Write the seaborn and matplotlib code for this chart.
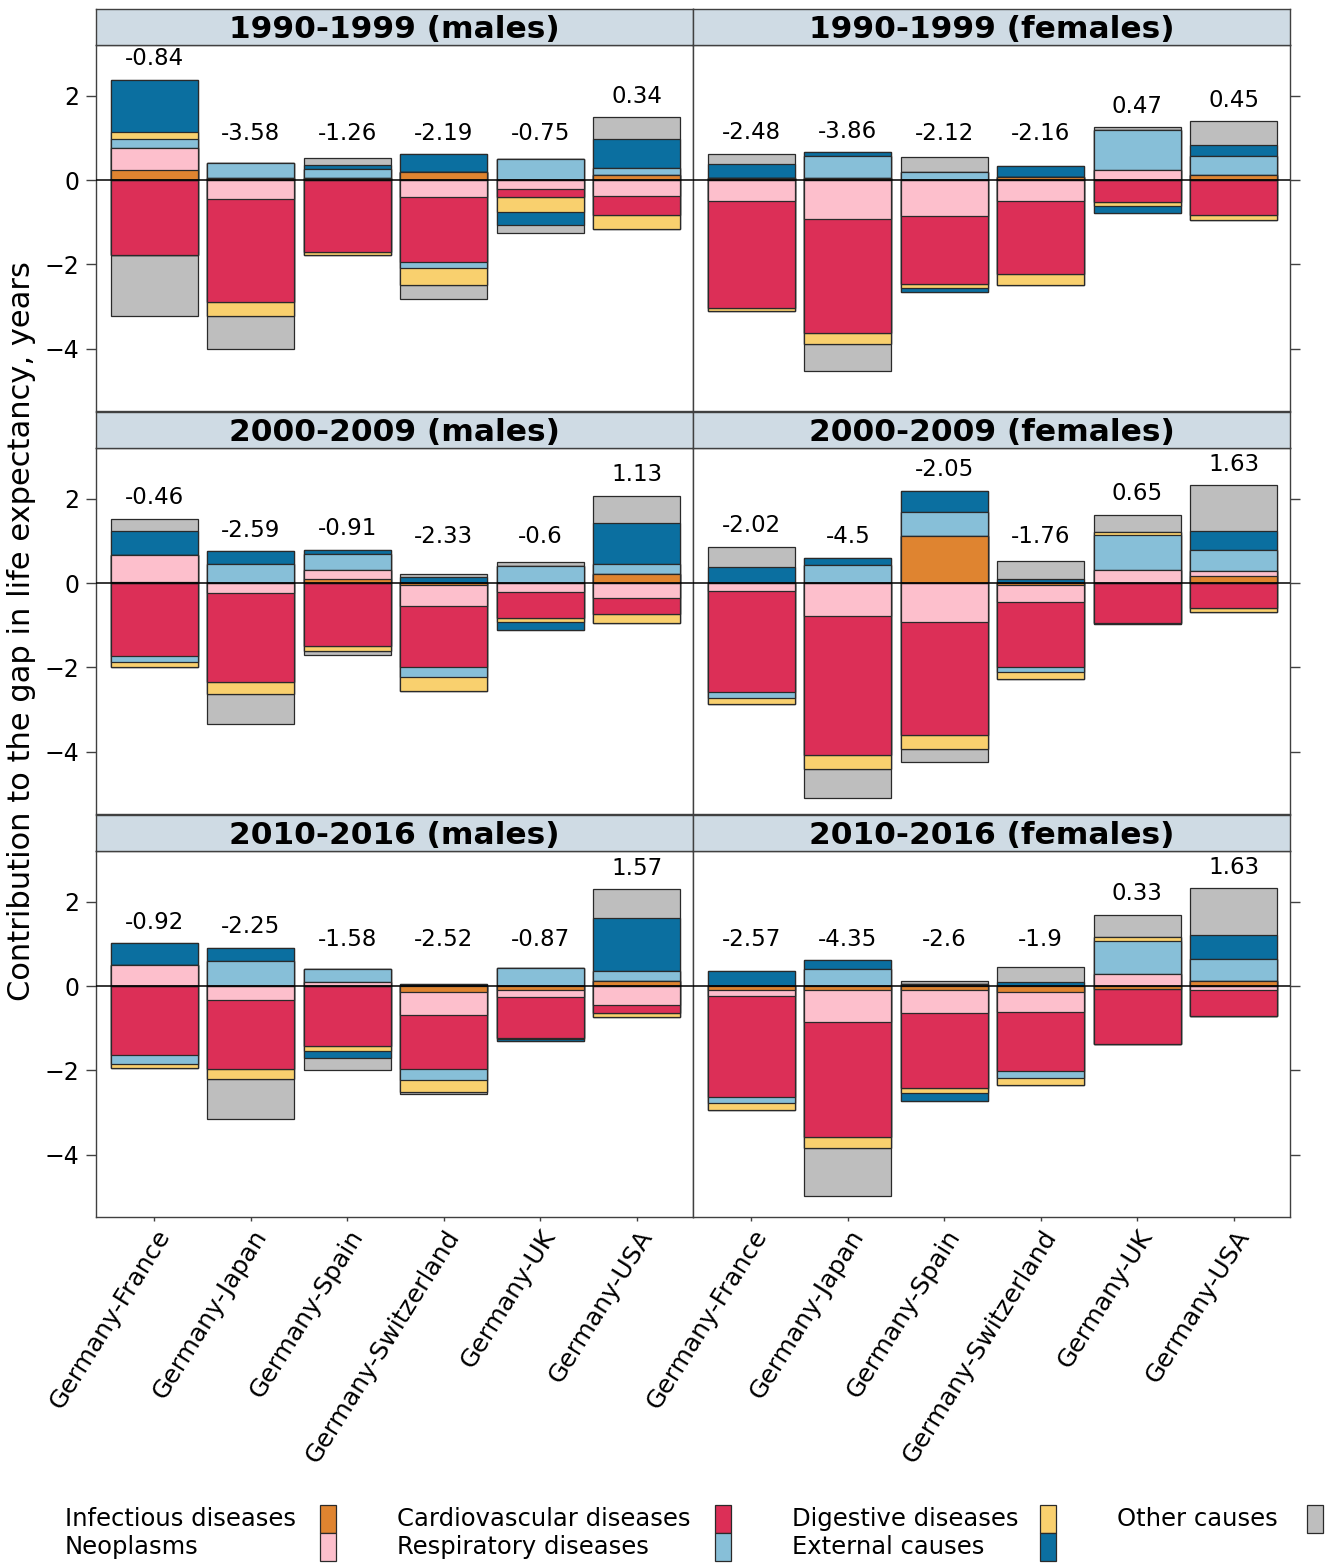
import numpy as np
import matplotlib
matplotlib.use("Agg")
import matplotlib.pyplot as plt
from matplotlib.patches import Rectangle
import seaborn as sns

pairs = ["Germany-France", "Germany-Japan", "Germany-Spain",
         "Germany-Switzerland", "Germany-UK", "Germany-USA"]
periods = ["1990-1999", "2000-2009", "2010-2016"]
sexes = ["males", "females"]

causes = ["Infectious diseases", "Neoplasms", "Cardiovascular diseases",
          "Respiratory diseases", "Digestive diseases", "External causes",
          "Other causes"]
cause_colors = ["#df8430", "#fdbfcc", "#dc2f57", "#87bfd8",
                "#f9d06e", "#0b6fa0", "#bebebe"]

# Rows: 1990-1999 m, 1990-1999 f, 2000-2009 m, 2000-2009 f, 2010-2016 m, 2010-2016 f
# Columns follow `pairs`.
infectious = [
    [0.24, 0.06, 0.05, 0.20, 0.00, 0.12],
    [0.05, 0.06, 0.00, 0.08, 0.00, 0.12],
    [0.03, 0.00, 0.10, -0.05, 0.00, 0.21],
    [0.00, 0.00, 1.11, -0.04, 0.00, 0.18],
    [0.00, 0.00, 0.00, -0.13, -0.08, 0.12],
    [-0.08, -0.08, -0.10, -0.13, -0.06, 0.12],
]
neoplasms = [
    [0.52, -0.44, 0.00, -0.41, -0.22, -0.37],
    [-0.50, -0.91, -0.85, -0.50, 0.24, 0.00],
    [0.65, -0.24, 0.22, -0.48, -0.21, -0.36],
    [-0.19, -0.79, -0.93, -0.40, 0.32, 0.10],
    [0.50, -0.32, 0.10, -0.56, -0.18, -0.45],
    [-0.16, -0.78, -0.54, -0.48, 0.29, -0.10],
]
cardiovascular = [
    [-1.77, -2.45, -1.70, -1.54, -0.17, -0.46],
    [-2.53, -2.71, -1.61, -1.73, -0.52, -0.83],
    [-1.72, -2.10, -1.50, -1.47, -0.61, -0.37],
    [-2.40, -3.28, -2.68, -1.54, -0.94, -0.59],
    [-1.64, -1.64, -1.43, -1.27, -0.97, -0.18],
    [-2.38, -2.71, -1.77, -1.40, -1.31, -0.60],
]
respiratory = [
    [0.22, 0.36, 0.22, -0.13, 0.50, 0.16],
    [0.00, 0.52, 0.20, 0.00, 0.94, 0.45],
    [-0.14, 0.46, 0.37, -0.22, 0.40, 0.25],
    [-0.13, 0.44, 0.58, -0.12, 0.82, 0.52],
    [-0.20, 0.61, 0.30, -0.26, 0.44, 0.25],
    [-0.16, 0.42, 0.06, -0.18, 0.78, 0.52],
]
digestive = [
    [0.16, -0.33, -0.08, -0.41, -0.36, -0.32],
    [-0.08, -0.26, -0.10, -0.26, -0.10, -0.12],
    [-0.13, -0.30, -0.10, -0.34, -0.10, -0.21],
    [-0.16, -0.34, -0.33, -0.18, 0.08, -0.10],
    [-0.10, -0.24, -0.10, -0.29, -0.02, -0.10],
    [-0.16, -0.26, -0.12, -0.16, 0.10, 0.00],
]
external = [
    [1.25, 0.00, 0.10, 0.42, -0.32, 0.70],
    [0.33, 0.08, -0.10, 0.25, -0.17, 0.26],
    [0.57, 0.30, 0.10, 0.14, -0.18, 0.98],
    [0.38, 0.16, 0.50, 0.10, -0.04, 0.44],
    [0.52, 0.30, -0.17, 0.05, -0.06, 1.25],
    [0.37, 0.20, -0.20, 0.10, 0.00, 0.58],
]
other = [
    [-1.46, -0.78, 0.15, -0.32, -0.18, 0.51],
    [0.25, -0.64, 0.34, 0.00, 0.08, 0.57],
    [0.28, -0.71, -0.10, 0.09, 0.10, 0.63],
    [0.48, -0.69, -0.30, 0.42, 0.41, 1.08],
    [0.00, -0.96, -0.28, -0.06, 0.00, 0.68],
    [0.00, -1.14, 0.07, 0.35, 0.53, 1.11],
]
# Total gap in life expectancy for each pair
gap = [
    [-0.84, -3.58, -1.26, -2.19, -0.75, 0.34],
    [-2.48, -3.86, -2.12, -2.16, 0.47, 0.45],
    [-0.46, -2.59, -0.91, -2.33, -0.6, 1.13],
    [-2.02, -4.5, -2.05, -1.76, 0.65, 1.63],
    [-0.92, -2.25, -1.58, -2.52, -0.87, 1.57],
    [-2.57, -4.35, -2.6, -1.9, 0.33, 1.63],
]

W, H = 1325, 1564
fig = plt.figure(figsize=(W / 100, H / 100), dpi=100)
plt.rcParams["font.family"] = ["DejaVu Sans"]

EDGE = "#2a2a2a"
FRAME = "#404040"
STRIP = "#cfdbe4"


def fx(px):
    return px / W


def fy(py):
    return 1 - py / H


col_left = [96, 693]
col_w = 597
row_top = [45, 448, 851]
plot_h = 366
strip_h = 36

for r, period in enumerate(periods):
    for c, sex in enumerate(sexes):
        k = r * 2 + c
        x0 = col_left[c]
        y_top = row_top[r]
        ax = fig.add_axes([fx(x0), fy(y_top + plot_h), fx(col_w), plot_h / H])

        vals = np.array([infectious[k], neoplasms[k], cardiovascular[k],
                         respiratory[k], digestive[k], external[k], other[k]])
        pos = np.cumsum(np.clip(vals, 0, None), axis=0)
        neg = np.cumsum(np.clip(vals, None, 0), axis=0)
        # outermost layers first, inner layers drawn over them
        for stack in (pos, neg):
            for j in range(len(causes) - 1, -1, -1):
                sns.barplot(x=pairs, y=stack[j], order=pairs,
                            color=cause_colors[j], saturation=1, width=0.9,
                            edgecolor=EDGE, linewidth=0.9, errorbar=None,
                            ax=ax)

        ax.axhline(0, color="black", lw=1.1, zorder=6)

        tops = pos[-1]
        for i, g in enumerate(gap[k]):
            ax.text(i, max(tops[i] + 0.5, 1.1), f"{g:g}", ha="center",
                    va="center", fontsize=16.5, color="black", zorder=7)

        ax.set_xlim(-0.606, 5.584)
        ax.set_ylim(-5.48, 3.21)
        ax.set_yticks([-4, -2, 0, 2])
        ax.set_xlabel("")
        ax.set_ylabel("")
        ax.set_facecolor("white")
        for sp in ax.spines.values():
            sp.set_color(FRAME)
            sp.set_linewidth(1.0)

        if c == 0:
            ax.tick_params(axis="y", left=True, right=False, labelleft=True,
                           direction="out", length=7, width=1,
                           color=FRAME, labelsize=17, pad=5)
        else:
            ax.yaxis.tick_right()
            ax.tick_params(axis="y", left=False, right=True,
                           labelleft=False, labelright=False,
                           direction="out", length=7, width=1, color=FRAME)

        if r == len(periods) - 1:
            ax.set_xticks(range(len(pairs)))
            ax.set_xticklabels(pairs, rotation=58, ha="right",
                               rotation_mode="anchor", fontsize=18)
            ax.tick_params(axis="x", bottom=True, direction="out",
                           length=3, width=1, color=FRAME, pad=3)
        else:
            ax.tick_params(axis="x", bottom=False, labelbottom=False)

        # strip header
        sax = fig.add_axes([fx(x0), fy(y_top), fx(col_w), strip_h / H])
        sax.set_facecolor(STRIP)
        sax.set_xticks([])
        sax.set_yticks([])
        for sp in sax.spines.values():
            sp.set_color(FRAME)
            sp.set_linewidth(1.0)
        sax.text(0.5, 0.42, f"{period} ({sex})", ha="center", va="center",
                 fontsize=22.5, fontweight="bold", transform=sax.transAxes)

fig.text(fx(22), fy(631), "Contribution to the gap in life expectancy, years",
         rotation=90, ha="center", va="center", fontsize=22)

# key below the panels: text followed by a colour box, filled column by column
text_x = [65, 397, 792, 1117]
box_x = [320, 715, 1040, 1307]
row_y = [1519, 1547]
for j, (name, col) in enumerate(zip(causes, cause_colors)):
    cc, rr = divmod(j, 2)
    fig.text(fx(text_x[cc]), fy(row_y[rr]), name, ha="left", va="center",
             fontsize=17.5)
    fig.add_artist(Rectangle((fx(box_x[cc]), fy(row_y[rr] + 14)),
                             16 / W, 28 / H, transform=fig.transFigure,
                             facecolor=col, edgecolor=EDGE, linewidth=0.9))

fig.savefig("out.png", dpi=100, facecolor="white")
